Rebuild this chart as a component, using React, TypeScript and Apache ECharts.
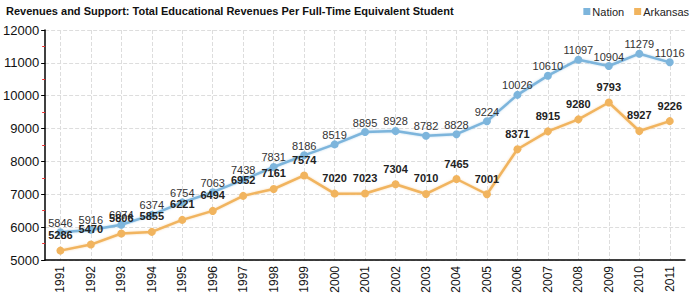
import React, { useEffect, useRef } from "react";
import * as echarts from "echarts";

const years = ["1991","1992","1993","1994","1995","1996","1997","1998","1999","2000","2001","2002","2003","2004","2005","2006","2007","2008","2009","2010","2011"];
const nation = [5846,5916,6074,6374,6754,7063,7438,7831,8186,8519,8895,8928,8782,8828,9224,10026,10610,11097,10904,11279,11016];
const arkansas = [5286,5470,5806,5855,6221,6494,6952,7161,7574,7020,7023,7304,7010,7465,7001,8371,8915,9280,9793,8927,9226];
const titleText = "Revenues and Support: Total Educational Revenues Per Full-Time Equivalent Student";

const NATION_COLOR = "#7db5dc";
const ARK_COLOR = "#f1b45e";
const FONT = "'Liberation Sans', Arial, sans-serif";

export default function App() {
  const ref = useRef<HTMLDivElement>(null);
  useEffect(() => {
    const chart = echarts.init(ref.current!, null, { renderer: "svg" });
    chart.setOption({
      animation: false,
      textStyle: { fontFamily: FONT },
      title: {
        text: titleText,
        left: 1,
        top: 0,
        textStyle: { fontSize: 11, fontWeight: "bold", color: "#111", fontFamily: FONT },
      },
      legend: {
        right: 6,
        top: 1,
        itemWidth: 7,
        itemHeight: 7,
        itemGap: 10,
        icon: "rect",
        textStyle: { fontSize: 11, color: "#222", fontFamily: FONT, padding: [0, 0, 0, -3] },
        data: ["Nation", "Arkansas"],
      },
      grid: { left: 42, right: 15, top: 30, bottom: 40 },
      xAxis: {
        type: "category",
        data: years,
        boundaryGap: true,
        axisLine: { lineStyle: { color: "#000", width: 1.5 } },
        axisTick: { alignWithLabel: true, length: 3, lineStyle: { color: "#000" } },
        axisLabel: { rotate: 90, fontSize: 12, color: "#111", margin: 6, fontFamily: FONT },
        splitLine: { show: true, alignWithLabel: true, lineStyle: { type: "dashed", color: "#ddd" } },
      },
      yAxis: {
        type: "value",
        min: 5000,
        max: 12000,
        interval: 1000,
        axisLine: { show: true, lineStyle: { color: "#000", width: 1.5 } },
        axisTick: { show: true, length: 4, lineStyle: { color: "#000" } },
        minorTick: { show: true, splitNumber: 2, length: 3, lineStyle: { color: "#e33" } },
        axisLabel: { fontSize: 13, color: "#111", margin: 6, fontFamily: FONT, formatter: (v: number) => String(v) },
        splitLine: { show: true, lineStyle: { type: "dashed", color: "#ddd" } },
      },
      series: [
        {
          name: "Nation",
          type: "line",
          data: nation,
          color: NATION_COLOR,
          symbol: "circle",
          symbolSize: 8,
          lineStyle: { width: 2.5, shadowColor: "rgba(125,181,220,0.5)", shadowBlur: 2 },
          label: { show: true, position: "top", distance: 0, fontSize: 11, color: "#333", fontFamily: FONT },
        },
        {
          name: "Arkansas",
          type: "line",
          data: arkansas,
          color: ARK_COLOR,
          symbol: "circle",
          symbolSize: 8,
          lineStyle: { width: 2.5, shadowColor: "rgba(241,180,94,0.5)", shadowBlur: 2 },
          label: { show: true, position: "top", distance: 6, fontSize: 11, fontWeight: "bold", color: "#222", fontFamily: FONT },
        },
      ],
    });
    return () => chart.dispose();
  }, []);
  return <div ref={ref} style={{ width: 700, height: 300, position: "absolute", left: 0, top: 0 }} />;
}
